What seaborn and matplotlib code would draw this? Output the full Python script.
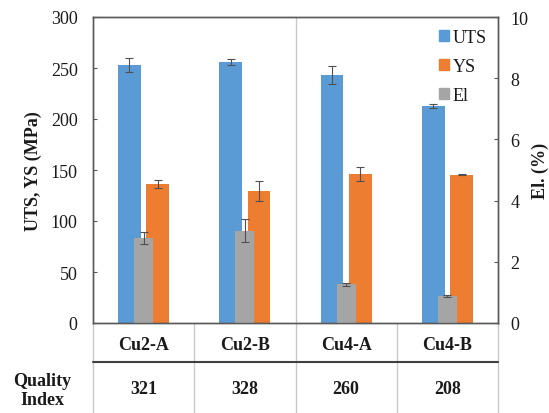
import matplotlib
matplotlib.use("Agg")
import matplotlib.pyplot as plt
import seaborn as sns
import pandas as pd
from matplotlib.patches import Patch

samples = ["Cu2-A", "Cu2-B", "Cu4-A", "Cu4-B"]
quality_index = ["321", "328", "260", "208"]
uts = [253, 255.5, 243, 213]
uts_err = [6.5, 3, 8.5, 2]
ys = [136, 129.5, 146, 145.5]
ys_err = [4, 9.5, 7, 0.5]
el = [2.79, 3.02, 1.26, 0.89]
el_err = [0.2, 0.38, 0.05, 0.03]

BLUE = "#5B9BD5"
ORANGE = "#ED7D31"
GRAY = "#A5A5A5"
TXT = "#1a1a1a"
SPINE = "#595959"
FS = 13

sns.set_style("white")
plt.rcParams["font.family"] = ["Liberation Serif", "DejaVu Serif"]
plt.rcParams["font.size"] = FS

df = pd.DataFrame({
    "Sample": samples * 2,
    "Property": ["UTS"] * 4 + ["YS"] * 4,
    "Value": uts + ys,
})
df_el = pd.DataFrame({"Sample": samples, "El": el})

fig = plt.figure(figsize=(5.49, 4.14), dpi=100)
ax = fig.add_axes([93 / 549, 90 / 414, 405 / 549, 306 / 414])

sns.barplot(data=df, x="Sample", y="Value", hue="Property", order=samples,
            hue_order=["UTS", "YS"], palette=[BLUE, ORANGE], width=0.56,
            gap=0.2, saturation=1, errorbar=None, legend=False,
            linewidth=0, ax=ax)
for cont, err in zip(ax.containers, [uts_err, ys_err]):
    xs = [b.get_x() + b.get_width() / 2 for b in cont]
    hs = [b.get_height() for b in cont]
    ax.errorbar(xs, hs, yerr=err, fmt="none", ecolor="#505050",
                elinewidth=0.8, capsize=3, capthick=0.8, zorder=5)

ax2 = ax.twinx()
sns.barplot(data=df_el, x="Sample", y="El", order=samples, color=GRAY,
            width=0.19, saturation=1, errorbar=None, linewidth=0, ax=ax2)
cont = ax2.containers[0]
xs = [b.get_x() + b.get_width() / 2 for b in cont]
hs = [b.get_height() for b in cont]
ax2.errorbar(xs, hs, yerr=el_err, fmt="none", ecolor="#505050",
             elinewidth=0.8, capsize=3, capthick=0.8, zorder=5)

for a in (ax, ax2):
    a.set_xlim(-0.5, 3.5)
    a.set_xlabel("")
    a.set_xticks([])
    for s in a.spines.values():
        s.set_visible(True)
        s.set_color(SPINE)
        s.set_linewidth(1)

ax.set_ylim(0, 300)
ax.set_yticks(range(0, 301, 50))
ax2.set_ylim(0, 10)
ax2.set_yticks(range(0, 11, 2))
ax.tick_params(axis="y", direction="in", length=3, width=0.8, color=SPINE,
               pad=11, labelsize=FS, labelcolor=TXT, left=True)
ax2.tick_params(axis="y", direction="in", length=3, width=0.8, color=SPINE,
                pad=9, labelsize=FS, labelcolor=TXT, right=True)
ax.set_ylabel("UTS, YS (MPa)", fontsize=FS, fontweight="bold", color=TXT, labelpad=6)
ax2.set_ylabel("El. (%)", fontsize=FS, fontweight="bold", color=TXT, labelpad=2)

ax.axvline(1.5, color="#C8C8C8", lw=1, zorder=0)

# table below the plot
xt = ax.get_xaxis_transform()
row1_bottom = -39 / 306
fig_bottom = -90 / 306
for xb in [-0.5, 0.5, 1.5, 2.5, 3.5]:
    ax.plot([xb, xb], [0, fig_bottom], transform=xt, color="#C8C8C8",
            lw=1, clip_on=False)
ax.plot([-0.5, 3.5], [row1_bottom, row1_bottom], transform=xt,
        color="#404040", lw=1.5, clip_on=False)
for i, (s, q) in enumerate(zip(samples, quality_index)):
    ax.text(i, -22 / 306, s, transform=xt, ha="center", va="center",
            fontsize=FS, fontweight="bold", color=TXT)
    ax.text(i, -66 / 306, q, transform=xt, ha="center", va="center",
            fontsize=FS, fontweight="bold", color=TXT)
fig.text(42 / 549, 1 - 391 / 414, "Quality\nIndex", ha="center", va="center",
         fontsize=FS, fontweight="bold", color=TXT, linespacing=1.2)

handles = [Patch(color=BLUE), Patch(color=ORANGE), Patch(color=GRAY)]
ax2.legend(handles, ["UTS", "YS", "El"], loc="upper left",
           bbox_to_anchor=(0.855, 0.96), frameon=False, handlelength=0.55,
           handleheight=0.55, handletextpad=0.2, labelspacing=0.65,
           borderaxespad=0, borderpad=0, fontsize=FS, labelcolor=TXT)

fig.savefig("out.png", dpi=100)
